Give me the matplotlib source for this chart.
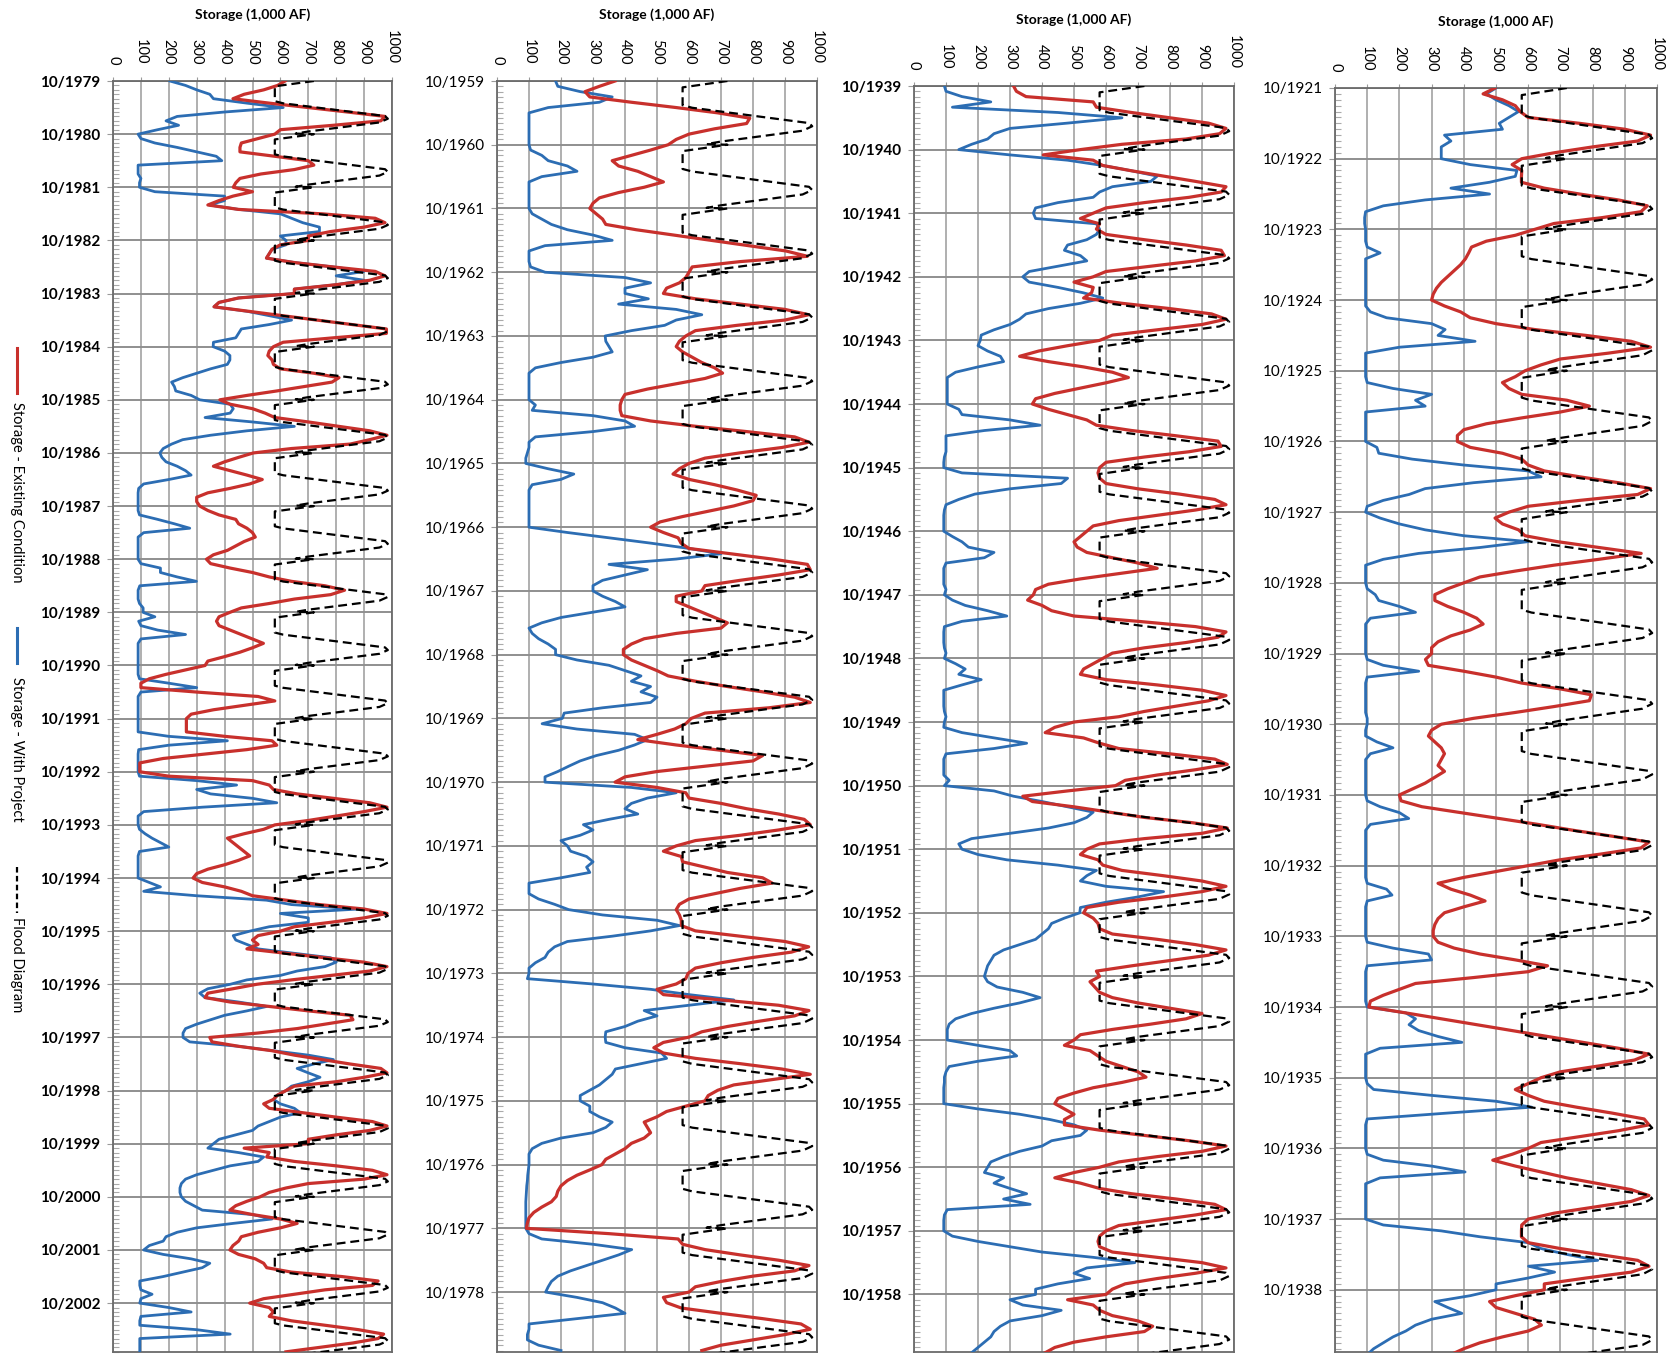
import numpy as np
import matplotlib
matplotlib.use("Agg")
import matplotlib.pyplot as plt
from matplotlib.lines import Line2D
from matplotlib.ticker import MultipleLocator

plt.rcParams['font.family'] = ['Lato', 'DejaVu Sans']

# ---- data: monthly storage (1,000 AF), Oct..Sep of each water year ----
wy_p1 = list(range(1980, 2004))
red_p1 = [
    [617, 590, 540, 470, 430, 560, 700, 840, 975, 960, 790, 600],
    [580, 520, 460, 455, 455, 580, 700, 720, 650, 530, 455, 440],
    [431, 500, 430, 380, 340, 450, 750, 940, 975, 900, 780, 700],
    [700, 600, 570, 560, 550, 650, 790, 940, 975, 920, 800, 650],
    [650, 450, 380, 362, 484, 608, 733, 857, 980, 980, 790, 610],
    [575, 560, 555, 570, 575, 600, 720, 810, 785, 687, 587, 481],
    [383, 420, 500, 545, 580, 700, 810, 920, 982, 920, 850, 640],
    [503, 450, 400, 360, 420, 480, 535, 490, 420, 340, 300, 300],
    [311, 340, 380, 440, 450, 480, 500, 510, 470, 440, 410, 360],
    [335, 350, 420, 500, 560, 640, 760, 830, 780, 650, 560, 460],
    [419, 380, 371, 380, 420, 460, 500, 539, 500, 455, 400, 340],
    [330, 260, 190, 130, 100, 100, 300, 520, 580, 470, 360, 280],
    [263, 263, 263, 263, 400, 570, 587, 480, 330, 180, 96, 96],
    [96, 200, 500, 560, 575, 660, 790, 920, 982, 900, 800, 700],
    [580, 540, 470, 410, 430, 450, 470, 490, 450, 400, 340, 300],
    [287, 320, 400, 460, 500, 620, 740, 900, 982, 900, 780, 650],
    [600, 520, 500, 520, 480, 620, 760, 900, 982, 920, 780, 640],
    [515, 430, 340, 330, 420, 560, 700, 850, 860, 760, 660, 520],
    [347, 355, 450, 570, 650, 750, 850, 960, 982, 900, 800, 650],
    [620, 590, 575, 540, 560, 680, 800, 930, 982, 920, 800, 700],
    [700, 470, 560, 551, 650, 800, 930, 982, 900, 700, 620, 560],
    [527, 480, 440, 419, 500, 600, 660, 600, 520, 460, 450, 430],
    [419, 450, 510, 540, 551, 640, 820, 950, 930, 760, 650, 540],
    [490, 560, 575, 560, 640, 760, 880, 970, 950, 860, 740, 620],
]
blue_p1 = [
    [204, 260, 300, 347, 360, 480, 610, 400, 230, 190, 235, 160],
    [90, 100, 150, 230, 300, 370, 390, 90, 90, 90, 100, 95],
    [95, 150, 400, 400, 345, 450, 600, 640, 680, 740, 740, 600],
    [620, 620, 570, 560, 550, 650, 790, 900, 800, 900, 800, 650],
    [650, 450, 380, 362, 480, 560, 640, 560, 460, 450, 440, 360],
    [359, 400, 419, 419, 410, 350, 300, 250, 210, 220, 225, 280],
    [311, 420, 431, 420, 330, 500, 650, 480, 350, 250, 210, 180],
    [168, 175, 190, 230, 260, 280, 200, 110, 92, 90, 90, 90],
    [90, 90, 95, 160, 220, 275, 110, 90, 90, 90, 90, 90],
    [90, 100, 170, 170, 230, 299, 96, 90, 90, 90, 95, 108],
    [108, 150, 92, 100, 160, 260, 100, 90, 90, 90, 90, 90],
    [90, 90, 90, 95, 200, 300, 100, 90, 90, 90, 90, 90],
    [90, 90, 90, 90, 200, 410, 200, 92, 90, 90, 90, 90],
    [90, 95, 300, 443, 300, 350, 500, 587, 320, 110, 90, 90],
    [90, 95, 115, 140, 170, 200, 95, 90, 90, 90, 90, 90],
    [90, 130, 170, 110, 300, 550, 640, 880, 600, 700, 700, 560],
    [490, 431, 440, 480, 520, 650, 780, 800, 760, 660, 600, 480],
    [420, 340, 311, 330, 450, 551, 480, 400, 350, 300, 260, 251],
    [251, 275, 450, 575, 700, 790, 720, 660, 700, 742, 700, 640],
    [620, 590, 575, 600, 650, 671, 600, 560, 520, 500, 440, 380],
    [360, 340, 450, 540, 520, 420, 360, 300, 260, 245, 240, 240],
    [245, 260, 290, 320, 500, 570, 430, 300, 230, 190, 180, 130],
    [110, 180, 280, 347, 320, 250, 180, 96, 96, 100, 140, 100],
    [96, 200, 280, 100, 96, 96, 300, 420, 96, 96, 96, 96],
]

wy_p2 = list(range(1960, 1980))
red_p2 = [
    [369, 320, 275, 290, 420, 560, 690, 790, 780, 680, 600, 560],
    [535, 480, 420, 360, 380, 440, 480, 520, 460, 380, 320, 300],
    [290, 310, 330, 340, 435, 552, 669, 786, 903, 970, 760, 610],
    [600, 590, 570, 530, 520, 620, 760, 900, 974, 900, 750, 620],
    [590, 570, 560, 580, 610, 640, 680, 705, 650, 560, 470, 400],
    [390, 385, 385, 390, 480, 620, 780, 930, 975, 890, 760, 650],
    [600, 570, 550, 600, 680, 750, 810, 800, 740, 660, 580, 510],
    [480, 520, 566, 575, 600, 730, 860, 970, 979, 880, 760, 650],
    [640, 560, 560, 600, 640, 680, 720, 700, 560, 460, 420, 395],
    [395, 420, 460, 500, 535, 620, 720, 830, 930, 979, 850, 650],
    [607, 590, 555, 500, 440, 560, 700, 830, 800, 650, 500, 400],
    [369, 500, 590, 600, 700, 780, 880, 960, 979, 880, 760, 620],
    [560, 520, 576, 580, 650, 720, 830, 860, 760, 680, 600, 570],
    [560, 570, 576, 576, 620, 760, 900, 974, 920, 800, 700, 620],
    [597, 590, 560, 500, 520, 700, 880, 975, 930, 820, 720, 640],
    [600, 520, 490, 520, 620, 760, 890, 979, 860, 740, 690, 660],
    [650, 590, 530, 500, 460, 470, 480, 460, 420, 400, 370, 340],
    [328, 290, 250, 220, 200, 190, 185, 170, 140, 115, 100, 95],
    [92, 350, 566, 580, 650, 760, 880, 975, 930, 800, 700, 620],
    [600, 520, 530, 576, 700, 830, 950, 979, 900, 800, 700, 640],
]
blue_p2 = [
    [183, 190, 260, 360, 320, 160, 100, 100, 100, 100, 100, 100],
    [100, 105, 140, 160, 220, 250, 140, 100, 100, 100, 100, 100],
    [100, 110, 140, 170, 220, 300, 360, 150, 100, 100, 100, 105],
    [150, 400, 480, 400, 400, 473, 380, 560, 640, 560, 524, 420],
    [338, 340, 350, 360, 300, 200, 120, 100, 100, 100, 100, 100],
    [100, 120, 110, 300, 400, 430, 300, 120, 100, 100, 95, 90],
    [90, 160, 240, 200, 110, 100, 100, 100, 100, 100, 100, 100],
    [100, 220, 350, 480, 600, 700, 560, 350, 470, 400, 330, 300],
    [300, 330, 370, 400, 300, 200, 140, 100, 110, 130, 160, 183],
    [183, 250, 350, 400, 450, 420, 480, 450, 500, 480, 330, 210],
    [204, 141, 250, 430, 470, 430, 380, 310, 260, 224, 190, 150],
    [150, 420, 560, 470, 420, 400, 440, 350, 270, 300, 260, 200],
    [220, 230, 280, 300, 280, 290, 200, 100, 100, 100, 130, 180],
    [224, 330, 500, 570, 480, 360, 220, 180, 160, 150, 120, 100],
    [100, 95, 300, 480, 600, 740, 600, 460, 500, 440, 400, 340],
    [338, 340, 400, 514, 530, 450, 370, 360, 340, 320, 290, 260],
    [260, 290, 290, 320, 360, 340, 300, 200, 140, 110, 100, 100],
    [100, 98, 96, 95, 93, 92, 91, 90, 90, 90, 90, 90],
    [90, 100, 140, 300, 421, 380, 330, 280, 230, 190, 170, 160],
    [152, 250, 330, 370, 400, 250, 100, 100, 95, 95, 130, 200],
]

wy_p3 = list(range(1940, 1960))
red_p3 = [
    [311, 320, 350, 560, 570, 680, 800, 920, 975, 955, 850, 650],
    [520, 404, 560, 590, 680, 780, 880, 975, 960, 860, 720, 600],
    [560, 520, 580, 570, 600, 720, 850, 960, 970, 880, 740, 600],
    [560, 500, 560, 555, 530, 650, 800, 930, 975, 900, 760, 620],
    [580, 480, 390, 330, 420, 530, 620, 670, 600, 520, 440, 380],
    [370, 420, 480, 540, 570, 680, 820, 950, 960, 860, 720, 600],
    [580, 575, 580, 600, 700, 830, 940, 975, 880, 760, 640, 560],
    [540, 520, 500, 510, 540, 620, 700, 760, 640, 520, 420, 380],
    [373, 355, 400, 430, 500, 700, 880, 975, 950, 850, 720, 620],
    [590, 560, 530, 520, 600, 760, 900, 975, 920, 820, 720, 640],
    [500, 440, 410, 530, 580, 640, 800, 940, 979, 880, 760, 660],
    [630, 480, 340, 370, 500, 610, 720, 870, 979, 900, 720, 580],
    [540, 520, 575, 590, 650, 780, 900, 975, 900, 780, 640, 540],
    [530, 560, 575, 580, 620, 760, 880, 975, 920, 800, 680, 570],
    [580, 550, 565, 580, 620, 700, 800, 900, 850, 740, 620, 520],
    [500, 470, 550, 575, 600, 650, 700, 725, 650, 560, 500, 450],
    [440, 470, 500, 470, 470, 580, 720, 860, 975, 900, 760, 640],
    [580, 500, 440, 520, 580, 680, 820, 940, 975, 880, 760, 640],
    [600, 580, 575, 580, 620, 760, 900, 975, 880, 760, 660, 620],
    [600, 480, 560, 580, 620, 700, 746, 720, 600, 500, 440, 410],
]
blue_p3 = [
    [95, 100, 150, 240, 120, 450, 650, 480, 300, 250, 230, 180],
    [140, 300, 480, 590, 680, 760, 740, 620, 580, 560, 450, 380],
    [373, 380, 570, 580, 570, 540, 480, 470, 520, 540, 450, 360],
    [340, 360, 450, 528, 590, 520, 420, 350, 330, 300, 250, 210],
    [207, 200, 230, 270, 280, 200, 130, 104, 104, 104, 104, 104],
    [104, 140, 150, 300, 394, 220, 100, 100, 100, 100, 95, 93],
    [93, 150, 480, 460, 300, 190, 140, 100, 95, 93, 93, 93],
    [93, 120, 150, 170, 250, 220, 100, 93, 93, 93, 93, 100],
    [95, 120, 160, 230, 290, 150, 95, 93, 93, 93, 95, 100],
    [95, 130, 160, 140, 210, 150, 93, 93, 93, 93, 95, 100],
    [95, 93, 150, 250, 352, 250, 100, 93, 93, 93, 93, 110],
    [95, 250, 311, 400, 480, 560, 540, 500, 420, 300, 180, 140],
    [150, 200, 290, 450, 570, 540, 520, 600, 780, 700, 600, 520],
    [518, 470, 430, 420, 400, 380, 330, 280, 250, 240, 230, 225],
    [220, 230, 260, 340, 394, 330, 250, 180, 130, 110, 104, 104],
    [104, 200, 300, 321, 200, 110, 100, 95, 95, 93, 93, 93],
    [93, 200, 330, 425, 500, 540, 520, 430, 400, 330, 280, 240],
    [230, 220, 280, 250, 300, 352, 280, 363, 104, 95, 93, 93],
    [93, 120, 200, 300, 400, 560, 690, 540, 500, 549, 450, 380],
    [380, 300, 340, 460, 400, 300, 270, 250, 240, 220, 200, 180],
]

wy_p4 = list(range(1922, 1940))
red_p4 = [
    [497, 460, 520, 560, 575, 600, 760, 900, 980, 940, 800, 680],
    [580, 550, 580, 579, 579, 650, 760, 880, 970, 950, 830, 680],
    [620, 560, 470, 424, 415, 405, 390, 370, 350, 330, 315, 305],
    [300, 340, 390, 420, 500, 620, 780, 920, 980, 850, 700, 640],
    [590, 560, 520, 540, 580, 720, 790, 700, 580, 470, 400, 380],
    [380, 420, 520, 580, 600, 650, 760, 880, 980, 940, 760, 600],
    [540, 497, 520, 570, 590, 690, 820, 951, 820, 680, 560, 450],
    [400, 350, 310, 310, 350, 400, 440, 460, 420, 360, 320, 300],
    [300, 281, 290, 400, 500, 579, 700, 796, 790, 680, 560, 430],
    [330, 300, 290, 310, 330, 340, 330, 320, 340, 310, 280, 240],
    [200, 205, 270, 390, 510, 630, 740, 860, 975, 950, 830, 700],
    [600, 500, 400, 320, 360, 420, 466, 400, 340, 320, 310, 305],
    [305, 320, 370, 450, 560, 660, 600, 430, 250, 200, 150, 110],
    [105, 220, 330, 440, 550, 660, 770, 880, 975, 930, 820, 700],
    [640, 600, 560, 600, 650, 750, 860, 960, 975, 880, 760, 640],
    [600, 550, 490, 560, 640, 720, 820, 920, 975, 920, 800, 680],
    [600, 580, 579, 579, 600, 700, 820, 940, 975, 920, 780, 650],
    [650, 560, 480, 500, 560, 620, 641, 600, 520, 450, 400, 360],
]
blue_p4 = [
    [500, 470, 500, 540, 570, 540, 510, 520, 340, 360, 330, 330],
    [330, 420, 565, 560, 480, 360, 480, 280, 150, 95, 92, 92],
    [95, 95, 95, 100, 140, 95, 95, 95, 95, 95, 95, 95],
    [95, 95, 110, 160, 300, 342, 320, 435, 200, 95, 95, 95],
    [95, 95, 100, 180, 300, 250, 280, 95, 95, 95, 95, 95],
    [95, 130, 136, 240, 400, 600, 640, 430, 280, 230, 150, 100],
    [95, 140, 200, 280, 400, 600, 450, 260, 150, 95, 95, 95],
    [95, 100, 125, 136, 200, 250, 110, 95, 95, 95, 95, 95],
    [95, 100, 150, 260, 100, 95, 95, 95, 95, 95, 95, 100],
    [100, 95, 95, 130, 180, 110, 95, 95, 95, 95, 95, 95],
    [95, 100, 140, 200, 229, 110, 95, 95, 95, 95, 95, 95],
    [95, 95, 95, 100, 160, 177, 100, 95, 95, 95, 95, 95],
    [95, 100, 180, 290, 300, 100, 95, 95, 95, 95, 95, 95],
    [100, 220, 250, 230, 260, 320, 394, 140, 95, 95, 95, 95],
    [95, 100, 120, 300, 500, 611, 350, 100, 95, 95, 95, 95],
    [95, 100, 150, 300, 404, 140, 95, 95, 95, 95, 95, 95],
    [95, 150, 330, 450, 600, 640, 720, 816, 601, 682, 600, 500],
    [500, 420, 310, 350, 394, 300, 250, 220, 180, 150, 120, 100],
]

# flood control diagram, same rule curve every water year (fraction of year from 1 Oct)
fd_frac = [0.00, 0.10, 0.38, 0.42, 0.66, 0.71, 0.78, 0.95, 0.99]
fd_val = [720, 580, 580, 610, 975, 985, 955, 700, 655]

RED = '#c8302c'
BLUE = '#2c6db3'
GRID = '#9a9a9a'

W, H = 1671, 1357
fig = plt.figure(figsize=(W / 100, H / 100), dpi=100)


def month_times(years):
    t = []
    for y in years:
        for m in range(12):
            t.append(y - 1 + 0.75 + m / 12.0)
    return np.array(t)


def flood_curve(years):
    tt, vv = [], []
    for y in years:
        for f, v in zip(fd_frac, fd_val):
            tt.append(y - 1 + 0.75 + f)
            vv.append(v)
    return np.array(tt), np.array(vv)


panels = [
    (wy_p1, red_p1, blue_p1, (113, 392, 81, 1352), 2003.67, 'bold'),
    (wy_p2, red_p2, blue_p2, (497, 817, 81, 1352), 1979.69, 'normal'),
    (wy_p3, red_p3, blue_p3, (914, 1234, 86, 1352), 1959.655, 'bold'),
    (wy_p4, red_p4, blue_p4, (1335, 1657, 88, 1352), 1939.63, 'normal'),
]

for years, red, blue, (x0, x1, y0, y1), t_end, weight in panels:
    ax = fig.add_axes([x0 / W, 1 - y1 / H, (x1 - x0) / W, (y1 - y0) / H])
    t = month_times(years)
    ax.plot(np.ravel(blue), t, color=BLUE, lw=2.0, zorder=3)
    ax.plot(np.ravel(red), t, color=RED, lw=2.3, zorder=4)
    ft, fv = flood_curve(years)
    ax.plot(fv, ft, color='black', lw=1.6, ls=(0, (4, 2.2)), zorder=5)

    t_start = years[0] - 1 + 0.75
    ax.set_xlim(0, 1000)
    ax.set_ylim(t_end, t_start)

    ax.xaxis.tick_top()
    ax.set_xticks(range(0, 1001, 100))
    ax.set_xticklabels([str(v) for v in range(0, 1001, 100)], rotation=-90, fontsize=10.5)
    ax.tick_params(axis='x', length=3, pad=9, color=GRID)

    ticks = [y - 1 + 0.75 for y in years]
    ax.set_yticks(ticks)
    ax.set_yticklabels(['10/%d' % (y - 1) for y in years], fontsize=11, fontweight=weight)
    ax.tick_params(axis='y', length=4, pad=5, color=GRID)
    ax.yaxis.set_minor_locator(MultipleLocator(1 / 12.0))
    ax.tick_params(axis='y', which='minor', direction='in', length=4, color='#aaaaaa', width=0.8)

    ax.grid(True, axis='x', color=GRID, lw=1.1)
    ax.grid(True, axis='y', color='#8f8f8f', lw=1.4)
    ax.set_axisbelow(True)
    for s in ax.spines.values():
        s.set_color('#6a6a6a')
        s.set_linewidth(1.3)

    fig.text((x0 + x1) / 2 / W, 1 - (y0 - 66) / H, 'Storage (1,000 AF)',
             ha='center', va='center', fontsize=10, fontweight='bold')

# vertical legend on the left edge
lx = 17 / W
legend_items = [
    (RED, '-', (348, 393), 'Storage - Existing Condition', 492),
    (BLUE, '-', (628, 663), 'Storage - With Project', 749),
    ('black', (0, (2.5, 1.5)), (867, 913), 'Flood Diagram', 965),
]
for color, ls, (ya, yb), label, yc in legend_items:
    fig.add_artist(Line2D([lx, lx], [1 - ya / H, 1 - yb / H], color=color,
                          lw=2.2 if ls == '-' else 1.6, ls=ls, transform=fig.transFigure))
    fig.text(lx, 1 - yc / H, label, rotation=270, ha='center', va='center', fontsize=10.5)

fig.savefig('out.png', dpi=100)
